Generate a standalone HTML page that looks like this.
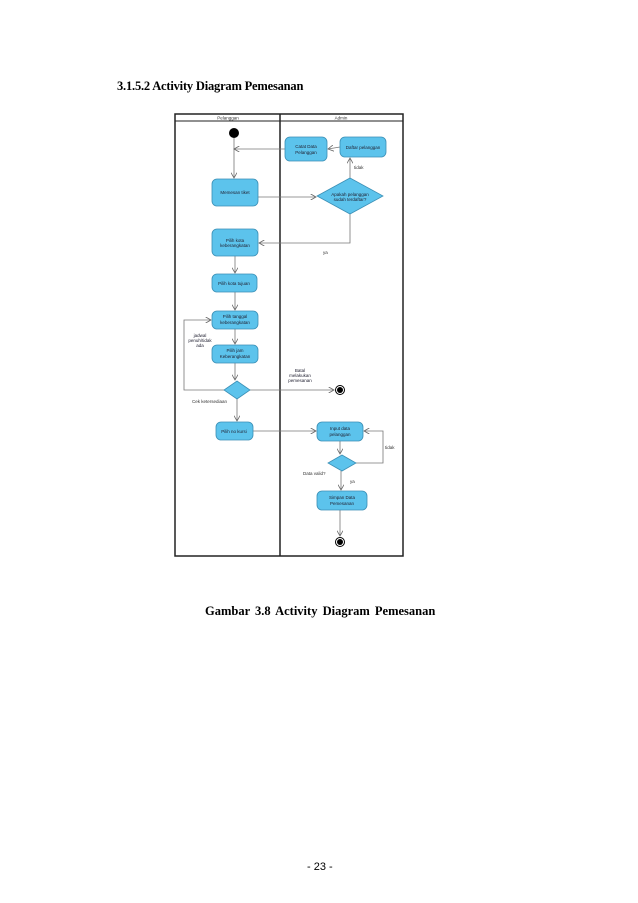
<!DOCTYPE html>
<html><head><meta charset="utf-8"><style>
body{margin:0;background:#fff;width:638px;height:903px;position:relative;overflow:hidden}
.t{position:absolute;font-family:"Liberation Serif",serif;font-weight:bold;font-size:12.5px;white-space:nowrap;color:#000}
</style></head><body>
<div class="t" style="left:117px;top:79px;letter-spacing:-0.2px">3.1.5.2 Activity Diagram Pemesanan</div>
<div class="t" style="left:205px;top:604px;word-spacing:2px">Gambar 3.8 Activity Diagram Pemesanan</div>
<div style="position:absolute;left:307px;top:861px;font-family:'Liberation Sans',sans-serif;font-size:11px">- 23 -</div>
<svg width="638" height="903" style="position:absolute;left:0;top:0" font-family="Liberation Sans,sans-serif" font-size="4.5" fill="#333">
<defs><marker id="a" markerWidth="8" markerHeight="8" refX="7" refY="4" orient="auto"><path d="M0,0 L7,4 L0,8" fill="none" stroke="#666" stroke-width="1"/></marker></defs>
<g stroke="#222" fill="none">
<rect x="175" y="114" width="228" height="442" stroke-width="1.5"/>
<line x1="175" y1="121" x2="403" y2="121"/>
<line x1="280" y1="114" x2="280" y2="556" stroke-width="1.5"/>
</g>
<text x="228" y="119.5" text-anchor="middle" font-size="4.5">Pelanggan</text>
<text x="341" y="119.5" text-anchor="middle" font-size="4.5">Admin</text>
<g stroke="#777" stroke-width="0.8" fill="none" marker-end="url(#a)">
<line x1="234" y1="138" x2="234" y2="178"/>
<line x1="285" y1="149" x2="234" y2="149" marker-end=""/>
<line x1="340" y1="147" x2="328" y2="149"/>
<line x1="350" y1="178" x2="350" y2="158"/>
<line x1="258" y1="197" x2="316" y2="197"/>
<polyline points="350,214 350,243 259,243"/>
<line x1="235" y1="256" x2="235" y2="273"/>
<line x1="235" y1="292" x2="235" y2="310"/>
<line x1="235" y1="328" x2="235" y2="344"/>
<line x1="235" y1="363" x2="235" y2="380"/>
<polyline points="224,390 184,390 184,320 211,320"/>
<line x1="250" y1="390" x2="334" y2="390"/>
<line x1="237" y1="399" x2="237" y2="421"/>
<line x1="253" y1="431" x2="316" y2="431"/>
<line x1="340" y1="441" x2="340" y2="454"/>
<polyline points="356,463 383,463 383,431 364,431"/>
<line x1="341" y1="471" x2="341" y2="490"/>
<line x1="340" y1="510" x2="340" y2="536"/>
</g>
<g fill="#5cc3ec" stroke="#3b8fb5" stroke-width="0.8">
<rect x="285" y="137" width="42" height="24" rx="5"/>
<rect x="340" y="137" width="46" height="20" rx="5"/>
<rect x="212" y="179" width="46" height="27" rx="5"/>
<polygon points="350,178 383,196 350,214 317,196"/>
<rect x="212" y="229" width="46" height="27" rx="5"/>
<rect x="212" y="274" width="45" height="18" rx="5"/>
<rect x="212" y="311" width="46" height="18" rx="5"/>
<rect x="212" y="345" width="46" height="18" rx="5"/>
<polygon points="237,381 250,390 237,399 224,390"/>
<rect x="216" y="422" width="37" height="18" rx="5"/>
<rect x="317" y="422" width="46" height="19" rx="5"/>
<polygon points="342,455 356,463 342,471 328,463"/>
<rect x="317" y="491" width="50" height="19" rx="5"/>
</g>
<circle cx="234" cy="133" r="5" fill="#000"/>
<circle cx="340" cy="390" r="4.5" fill="#fff" stroke="#000"/><circle cx="340" cy="390" r="3" fill="#000"/>
<circle cx="340" cy="542" r="4.5" fill="#fff" stroke="#000"/><circle cx="340" cy="542" r="3" fill="#000"/>
<g text-anchor="middle" fill="#223">
<text x="306" y="148">Catat Data</text><text x="306" y="154">Pelanggan</text>
<text x="363" y="149">Daftar pelanggan</text>
<text x="235" y="194">Memesan tiket</text>
<text x="350" y="196">Apakah pelanggan</text><text x="350" y="201">sudah terdaftar?</text>
<text x="235" y="242">Pilih kota</text><text x="235" y="247">keberangkatan</text>
<text x="234" y="285">Pilih kota tujuan</text>
<text x="235" y="318">Pilih tanggal</text><text x="235" y="324">keberangkatan</text>
<text x="235" y="352">Pilih jam</text><text x="235" y="358">Keberangkatan</text>
<text x="234" y="433">Pilih no kursi</text>
<text x="340" y="430">Input data</text><text x="340" y="436">pelanggan</text>
<text x="342" y="499">Simpan Data</text><text x="342" y="505">Pemesanan</text>
<text x="200" y="337">jadwal</text><text x="200" y="342">penuh/tidak</text><text x="200" y="347">ada</text>
<text x="300" y="372">Batal</text><text x="300" y="377">melakukan</text><text x="300" y="382">pemesanan</text>
</g>
<text x="354" y="169">tidak</text>
<text x="323" y="254">ya</text>
<text x="192" y="403">Cek ketersediaan</text>
<text x="303" y="475">Data valid?</text>
<text x="350" y="483">ya</text>
<text x="385" y="449">tidak</text>
</svg>
</body></html>
